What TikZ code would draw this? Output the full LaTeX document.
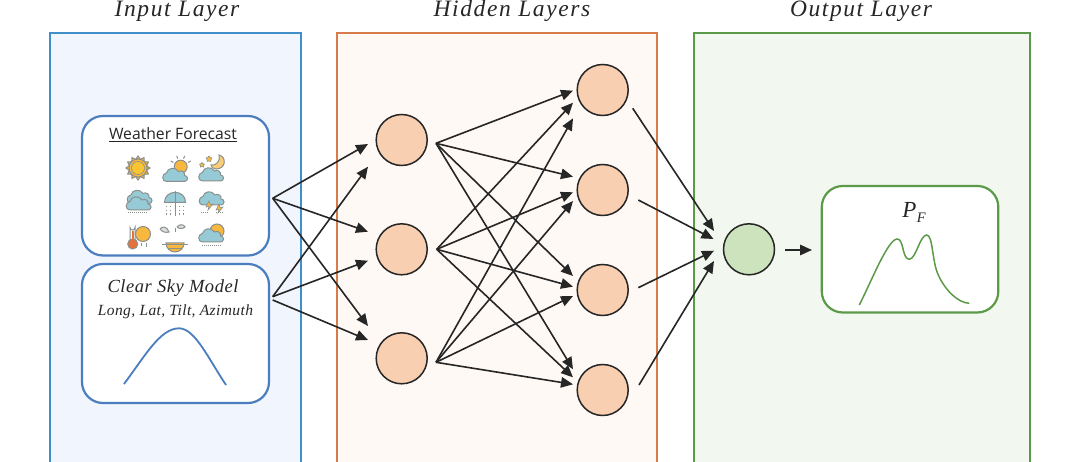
\documentclass[tikz,border=0pt]{standalone}
\usepackage{fontspec}
\usetikzlibrary{arrows.meta,shapes.geometric}
\setmainfont{Open Sans}
\newfontfamily\capfont[LetterSpace=6.8,ItalicFont={Liberation Serif Italic}]{Liberation Serif}
\newfontfamily\subfont[LetterSpace=3,ItalicFont={Liberation Serif Italic}]{Liberation Serif}
\newfontfamily\smallfont[LetterSpace=2.5,ItalicFont={Liberation Serif Italic}]{Liberation Serif}
\newfontfamily\symfont[ItalicFont={Liberation Serif Italic}]{Liberation Serif}
\definecolor{inFill}{HTML}{F1F5FD}
\definecolor{inLine}{HTML}{3F8FCB}
\definecolor{hidFill}{HTML}{FEF9F5}
\definecolor{hidLine}{HTML}{D67B4A}
\definecolor{outFill}{HTML}{F2F8EF}
\definecolor{outLine}{HTML}{5B9A48}
\definecolor{boxBlue}{HTML}{4A7EBF}
\definecolor{nodeOrange}{HTML}{F8CFB0}
\definecolor{nodeGreen}{HTML}{CCE3BD}
\definecolor{ink}{HTML}{262626}
\definecolor{skyc}{HTML}{96CAD6}
\definecolor{sunc}{HTML}{F8B73E}
\definecolor{icoline}{HTML}{8A908B}
\definecolor{therm}{HTML}{E8703A}
\tikzset{
  every node/.style={outer sep=0pt},
  layerbox/.style={draw,line width=2pt,inner sep=0pt,anchor=north west,minimum height=440pt},
  panel/.style={draw,fill=white,rounded corners=21pt,line width=2.2pt,inner sep=0pt,anchor=north west},
  neuron/.style={circle,draw=ink,line width=1.5pt,fill=nodeOrange,minimum size=51pt,inner sep=0pt},
  conn/.style={ink,line width=1.6pt,-{Triangle[length=12pt,width=10.5pt]}},
  layertitle/.style={font=\capfont\itshape\fontsize{23.5}{25}\selectfont,text=ink,inner sep=0pt,anchor=base},
  ico/.style={draw=icoline,line width=1pt},
  rainl/.style={draw=icoline,line width=1pt},
}
% cloud centred on the origin, about 24 wide and 14 high
\newcommand{\icloud}{\path[ico,fill=skyc] (-9,7) .. controls (-14,7) and (-14,-1) .. (-9,-1.5) .. controls (-8,-7) and (0,-8) .. (3,-3) .. controls (6,-5) and (10,-2) .. (9,1) .. controls (13,1) and (13,7) .. (9,7) -- cycle;}
\newcommand{\isun}[1]{\path[ico,fill=sunc] (0,0) circle (#1);}
\newcommand{\irain}[1]{\draw[rainl,dash pattern=on 1pt off 1pt] (-10,#1) -- (10,#1);}
\begin{document}
\begin{tikzpicture}[x=1pt,y=-1pt]
\useasboundingbox (0,0) rectangle (1080,462);
\begin{scope}
\clip (0,0) rectangle (1080,462);
\node[layerbox,draw=inLine,fill=inFill,minimum width=250.5pt] (inbox) at (50.2,33) {};
\node[layerbox,draw=hidLine,fill=hidFill,minimum width=319.5pt] (hidbox) at (337.2,33) {};
\node[layerbox,draw=outLine,fill=outFill,minimum width=336.5pt] (outbox) at (693.7,33) {};
\end{scope}
\node[layertitle] (t1) at (177,16.7) {Input Layer};
\node[layertitle] (t2) at (512,16.7) {Hidden Layers};
\node[layertitle] (t3) at (861,16.7) {Output Layer};
% panels
\node[panel,draw=boxBlue,minimum width=187pt,minimum height=139.5pt] (wf) at (82,116) {};
\node[panel,draw=boxBlue,minimum width=187pt,minimum height=139pt] (cs) at (82,264) {};
\node[panel,draw=outLine,minimum width=176.5pt,minimum height=126.5pt] (pf) at (821.8,186) {};
\node[inner sep=0pt,text=ink,font=\fontsize{15.7}{18}\selectfont] (wft) at (173,135) {\underline{Weather Forecast}};
\node[inner sep=0pt,text=ink,anchor=base,font=\subfont\itshape\fontsize{18.5}{20}\selectfont] (cst) at (173,292.5) {Clear Sky Model};
\node[inner sep=0pt,text=ink,anchor=base,font=\smallfont\itshape\fontsize{15.5}{18}\selectfont] (csl) at (175.5,316) {Long, Lat, Tilt, Azimuth};
\node[inner sep=0pt,text=ink,anchor=base,font=\symfont\itshape\fontsize{23}{25}\selectfont] (pft) at (914,218) {P\kern.5pt\raisebox{-4.7pt}{\fontsize{14.5}{16}\selectfont F}};
% curves
\draw[boxBlue,line width=1.8pt] (124,384) .. controls (145,356) and (160,328.5) .. (179,328.3) .. controls (195,328.5) and (208,358) .. (226,385);
\draw[outLine,line width=1.5pt] (859.3,305) .. controls (872,280) and (888,239) .. (897.3,239) .. controls (904,239) and (902,259) .. (909.3,259.3) .. controls (916,259) and (920,235) .. (926.7,235) .. controls (933,235) and (932,262) .. (938.3,275) .. controls (945,290) and (958,303) .. (969.3,303.3);
% neurons
\node[neuron] (a1) at (401.7,140) {};
\node[neuron] (a2) at (401.7,249.3) {};
\node[neuron] (a3) at (401.7,358.3) {};
\node[neuron] (b1) at (602.7,90) {};
\node[neuron] (b2) at (602.7,190) {};
\node[neuron] (b3) at (602.7,290) {};
\node[neuron] (b4) at (602.7,390) {};
\node[neuron,fill=nodeGreen] (o) at (749,249.3) {};
% connector free ends
\foreach \n/\x/\y in {
 sw/272.7/198.3, sc/272.7/296.7, sd/272.7/300,
 ea1/368/144, ea1b/368/166.7, ea2/368/231.7, ea2b/368/260.7, ea3/368/326, ea3b/368/340,
 sa1/436/143.3, sa2/436.7/249.3, sa3/436/362.3,
 e11/573/90.7, e12/573/102.7, e13/573/118.3,
 e21/573/176.7, e22/573/192.3, e23/573/201,
 e31/573/276, e32/573/286.7, e33/573/296,
 e41/573/369.3, e42/573/377.3, e43/573/384.3,
 sb1/632.7/108.3, sb2/638.3/200, sb3/638.3/287.7, sb4/639/385,
 eo1/714/231, eo2/713.5/239, eo3/714/250.7, eo4/714/261,
 so/785/250, ep/812/250}{\coordinate (\n) at (\x,\y);}
\draw[conn] (sw) -- (ea1);
\draw[conn] (sw) -- (ea2);
\draw[conn] (sw) -- (ea3);
\draw[conn] (sc) -- (ea1b);
\draw[conn] (sc) -- (ea2b);
\draw[conn] (sd) -- (ea3b);
\foreach \s/\t in {sa1/e11,sa1/e21,sa1/e31,sa1/e41,sa2/e12,sa2/e22,sa2/e32,sa2/e42,sa3/e13,sa3/e23,sa3/e33,sa3/e43,sb1/eo1,sb2/eo2,sb3/eo3,sb4/eo4,so/ep}
  \draw[conn] (\s) -- (\t);
% icons row 1
\begin{scope}[shift={(138,168)}]
 \foreach \a in {0,30,...,330}
  \path[ico,fill=sunc,rotate=\a] (-2.4,-8.5) -- (0,-12) -- (2.4,-8.5) -- cycle;
 \isun{9}\path[ico,line width=.6pt,fill=sunc!80!yellow] (0,0) circle (6.5);
\end{scope}
\begin{scope}[shift={(175,168)}]
 \begin{scope}[shift={(5.7,-1.3)}]\isun{6.5}
  \foreach \a in {-60,-20,20,60}\draw[rainl,rotate=\a] (0,-8.5) -- (0,-11.5);\end{scope}
 \begin{scope}[shift={(.5,6.5)}]\icloud\end{scope}
\end{scope}
\begin{scope}[shift={(212,168)}]
 \path[ico,fill=sunc!70!white] (7,-13) .. controls (15,-11) and (14,1) .. (4,1) .. controls (1,1) and (-1,-1) .. (-1,-3) .. controls (4,-2) and (9,-7) .. (7,-13) -- cycle;
 \node[star,star points=5,ico,line width=.6pt,fill=sunc,minimum size=6pt,inner sep=0pt] (st1) at (-3,-9) {};
 \node[star,star points=5,ico,line width=.6pt,fill=sunc,minimum size=5pt,inner sep=0pt] (st2) at (-10,-3) {};
 \begin{scope}[shift={(-.5,6)}]\icloud\end{scope}
\end{scope}
% row 2
\begin{scope}[shift={(138,200)}]
 \begin{scope}[shift={(2,-3.5)}]\icloud\end{scope}
 \begin{scope}[shift={(1,3)}]\icloud\end{scope}
 \irain{13}
\end{scope}
\begin{scope}[shift={(175,200)}]
 \path[ico,fill=skyc] (-10.5,2.5) .. controls (-10.5,-11) and (10.5,-11) .. (10.5,2.5) -- cycle;
 \draw[rainl] (0,-9) -- (0,16);
 \foreach \x in {-9,-5,4,8}{\draw[rainl,dash pattern=on 1.2pt off 2.5pt] (\x,6) -- (\x,15);}
\end{scope}
\begin{scope}[shift={(212,200)}]
 \begin{scope}[shift={(0,-2)}]\icloud\end{scope}
 \path[ico,line width=.6pt,fill=sunc] (-3,1) -- (-6,7) -- (-3,6.5) -- (-4,10) -- (1,4) -- (-2,4.5) -- cycle;
 \path[ico,line width=.6pt,fill=sunc] (7,4) -- (4,10) -- (7,9.5) -- (6,13) -- (11,7) -- (8,7.5) -- cycle;
 \draw[rainl,dash pattern=on 1pt off 1pt] (-11,13) -- (-3,13) (4,13) -- (11,13);
\end{scope}
% row 3
\begin{scope}[shift={(138,237)}]
 \path[ico,fill=white] (-8,-9.5) arc (180:0:2.5) -- (-3,3) -- (-8,3) -- cycle;
 \path[ico,fill=therm] (-5.3,7) circle (5);
 \fill[therm] (-6.5,-6) rectangle (-4.1,4);
 \begin{scope}[shift={(5,-3)}]\isun{7.5}\end{scope}
 \draw[rainl] (3,6) -- (3,9) (8,6) -- (8,10);
\end{scope}
\begin{scope}[shift={(175,237)}]
 \path[ico,fill=sunc] (-9,6) arc (180:0:9) -- cycle;
 \draw[rainl] (-13,8) -- (13,8) (-7,12) -- (7,12);
 \draw[rainl] (0,-9) -- (0,-5);
 \path[ico,fill=white!70!icoline] (-15,-8) .. controls (-13,-11) and (-8,-11) .. (-6,-5) .. controls (-9,-4) and (-13,-5) .. (-15,-8);
 \path[ico,fill=white!70!icoline] (2,-10) .. controls (4,-13) and (9,-13) .. (10,-10) .. controls (8,-8) and (4,-8) .. (2,-10);
\end{scope}
\begin{scope}[shift={(212,237)}]
 \begin{scope}[shift={(5,-6)}]\isun{7}\end{scope}
 \begin{scope}[shift={(-.5,-2)}]\icloud\end{scope}
 \irain{8.5}
\end{scope}
\end{tikzpicture}
\end{document}
